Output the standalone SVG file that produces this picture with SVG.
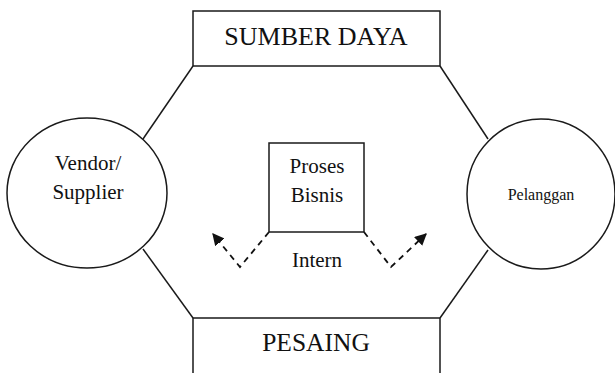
<svg xmlns="http://www.w3.org/2000/svg" width="615" height="373" viewBox="0 0 615 373">
<style>
.s{fill:none;stroke:#1a1a1a;stroke-width:1.5}
.n{fill:#fff;stroke:#1a1a1a;stroke-width:1.5}
.d{fill:none;stroke:#111;stroke-width:1.8;stroke-dasharray:6 5}
text{font-family:"Liberation Serif","Times New Roman",serif;fill:#111;text-anchor:middle}
</style>
<defs>
<marker id="ah" viewBox="0 0 10 10" refX="9" refY="5" markerWidth="12" markerHeight="12" markerUnits="userSpaceOnUse" orient="auto">
<path d="M0,0 L10,5 L0,10 Z" fill="#111"/>
</marker>
</defs>
<rect width="615" height="373" fill="#fff"/>
<g id="connectors">
<line class="s" x1="193" y1="66" x2="143" y2="139"/>
<line class="s" x1="143" y1="249" x2="193" y2="318"/>
<line class="s" x1="440" y1="66" x2="488" y2="139"/>
<line class="s" x1="488" y1="250" x2="440" y2="318"/>
<polyline class="d" points="269,232 240,267 213,234" marker-end="url(#ah)"/>
<polyline class="d" points="364,232 391,267 426,234" marker-end="url(#ah)"/>
</g>
<g id="sumber-daya">
<rect class="n" x="193" y="11" width="247" height="55"/>
<text x="316" y="45" font-size="26">SUMBER DAYA</text>
</g>
<g id="pesaing">
<rect class="n" x="193" y="318" width="247" height="70"/>
<text x="316" y="351" font-size="25.5">PESAING</text>
</g>
<g id="vendor">
<ellipse class="n" cx="87" cy="193" rx="80" ry="75"/>
<text x="88" y="170" font-size="21">Vendor/</text>
<text x="88" y="199" font-size="21">Supplier</text>
</g>
<g id="pelanggan">
<ellipse class="n" cx="541" cy="194" rx="74" ry="75"/>
<text x="541" y="200" font-size="16">Pelanggan</text>
</g>
<g id="proses-bisnis">
<rect class="n" x="269" y="143" width="95" height="89"/>
<text x="317" y="173" font-size="21">Proses</text>
<text x="317" y="202" font-size="21">Bisnis</text>
</g>
<g id="intern">
<text x="317" y="267" font-size="21">Intern</text>
</g>
</svg>
